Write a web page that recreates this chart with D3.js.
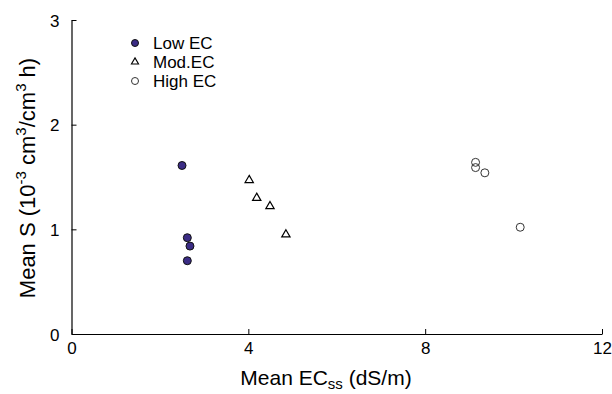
<!DOCTYPE html>
<html><head><meta charset="utf-8">
<script src="https://cdn.jsdelivr.net/npm/d3@7"></script>
<style>body{margin:0;background:#fff}svg{display:block}text{font-family:"Liberation Sans",Arial,Helvetica,sans-serif;fill:#000}</style>
</head><body><svg id="c" width="612" height="394"></svg>
<script>
const seriesNames = ["Low EC", "Mod.EC", "High EC"];
const lowX = [2.50, 2.62, 2.68, 2.62];
const lowY = [1.61, 0.92, 0.84, 0.70];
const modX = [4.02, 4.19, 4.49, 4.85];
const modY = [1.47, 1.30, 1.22, 0.95];
const highX = [9.14, 9.14, 9.35, 10.15];
const highY = [1.64, 1.59, 1.54, 1.02];
const xTicks = [0, 4, 8, 12];
const yTicks = [0, 1, 2, 3];

const svg = d3.select("#c");
const x = d3.scaleLinear().domain([0, 12]).range([71.5, 602]);
const y = d3.scaleLinear().domain([0, 3]).range([334, 20]);

// axes
const xa = svg.append("g").attr("transform", `translate(0,${y(0)})`)
  .call(d3.axisBottom(x).tickValues(xTicks).tickFormat(d3.format("d")).tickSizeInner(-5).tickSizeOuter(0).tickPadding(8));
const ya = svg.append("g").attr("transform", `translate(${x(0)},0)`)
  .call(d3.axisLeft(y).tickValues(yTicks).tickFormat(d3.format("d")).tickSizeInner(-5).tickSizeOuter(0).tickPadding(12));
[xa, ya].forEach(a => {
  a.select(".domain").attr("stroke", "#000").attr("stroke-width", 1.2);
  a.selectAll(".tick line").attr("stroke", "#000").attr("stroke-width", 1);
  a.selectAll(".tick text").attr("font-size", 17).attr("font-family", '"Liberation Sans",Arial,sans-serif').attr("fill", "#000");
});
ya.selectAll(".tick text").attr("dy", "0.36em");
xa.selectAll(".tick text").attr("dy", "0.72em");

// axis titles
const xt = svg.append("text").attr("x", 326).attr("y", 385).attr("text-anchor", "middle").attr("font-size", 21);
xt.append("tspan").text("Mean EC");
xt.append("tspan").attr("font-size", 15).attr("dy", 4).text("ss");
xt.append("tspan").attr("dy", -4).text(" (dS/m)");

const yt = svg.append("text").attr("transform", "translate(35,178) rotate(-90)").attr("text-anchor", "middle").attr("font-size", 22);
yt.append("tspan").text("Mean S (10");
yt.append("tspan").attr("font-size", 15).attr("dy", -9).text("-3");
yt.append("tspan").attr("dy", 9).text(" cm");
yt.append("tspan").attr("font-size", 15).attr("dy", -9).text("3");
yt.append("tspan").attr("dy", 9).text("/cm");
yt.append("tspan").attr("font-size", 15).attr("dy", -9).text("3");
yt.append("tspan").attr("dy", 9).text(" h)");

// marks
const tri = d3.symbol().type(d3.symbolTriangle);
const g = svg.append("g");
g.selectAll("circle.low").data(lowX.map((v, i) => [v, lowY[i]])).join("circle")
  .attr("cx", d => x(d[0])).attr("cy", d => y(d[1])).attr("r", 4)
  .attr("fill", "#3b2c85").attr("stroke", "#111").attr("stroke-width", 1);
g.selectAll("path.mod").data(modX.map((v, i) => [v, modY[i]])).join("path")
  .attr("d", tri.size(30)()).attr("transform", d => `translate(${x(d[0])},${y(d[1])})`)
  .attr("fill", "#fff").attr("stroke", "#000").attr("stroke-width", 1.2);
g.selectAll("circle.high").data(highX.map((v, i) => [v, highY[i]])).join("circle")
  .attr("cx", d => x(d[0])).attr("cy", d => y(d[1])).attr("r", 4)
  .attr("fill", "none").attr("stroke", "#333").attr("stroke-width", 1);

// legend
const leg = svg.append("g");
const rows = [43, 62, 81];
leg.append("circle").attr("cx", 135).attr("cy", rows[0]).attr("r", 3.5).attr("fill", "#3b2c85").attr("stroke", "#111");
leg.append("path").attr("d", d3.symbol().type(d3.symbolTriangle).size(22)()).attr("transform", `translate(135,${rows[1]})`).attr("fill", "#fff").attr("stroke", "#000").attr("stroke-width", 1.1);
leg.append("circle").attr("cx", 135).attr("cy", rows[2]).attr("r", 3.5).attr("fill", "none").attr("stroke", "#333");
seriesNames.forEach((s, i) => {
  leg.append("text").attr("x", 153).attr("y", rows[i]).attr("dy", "0.36em").attr("font-size", 17).text(s);
});
</script></body></html>
